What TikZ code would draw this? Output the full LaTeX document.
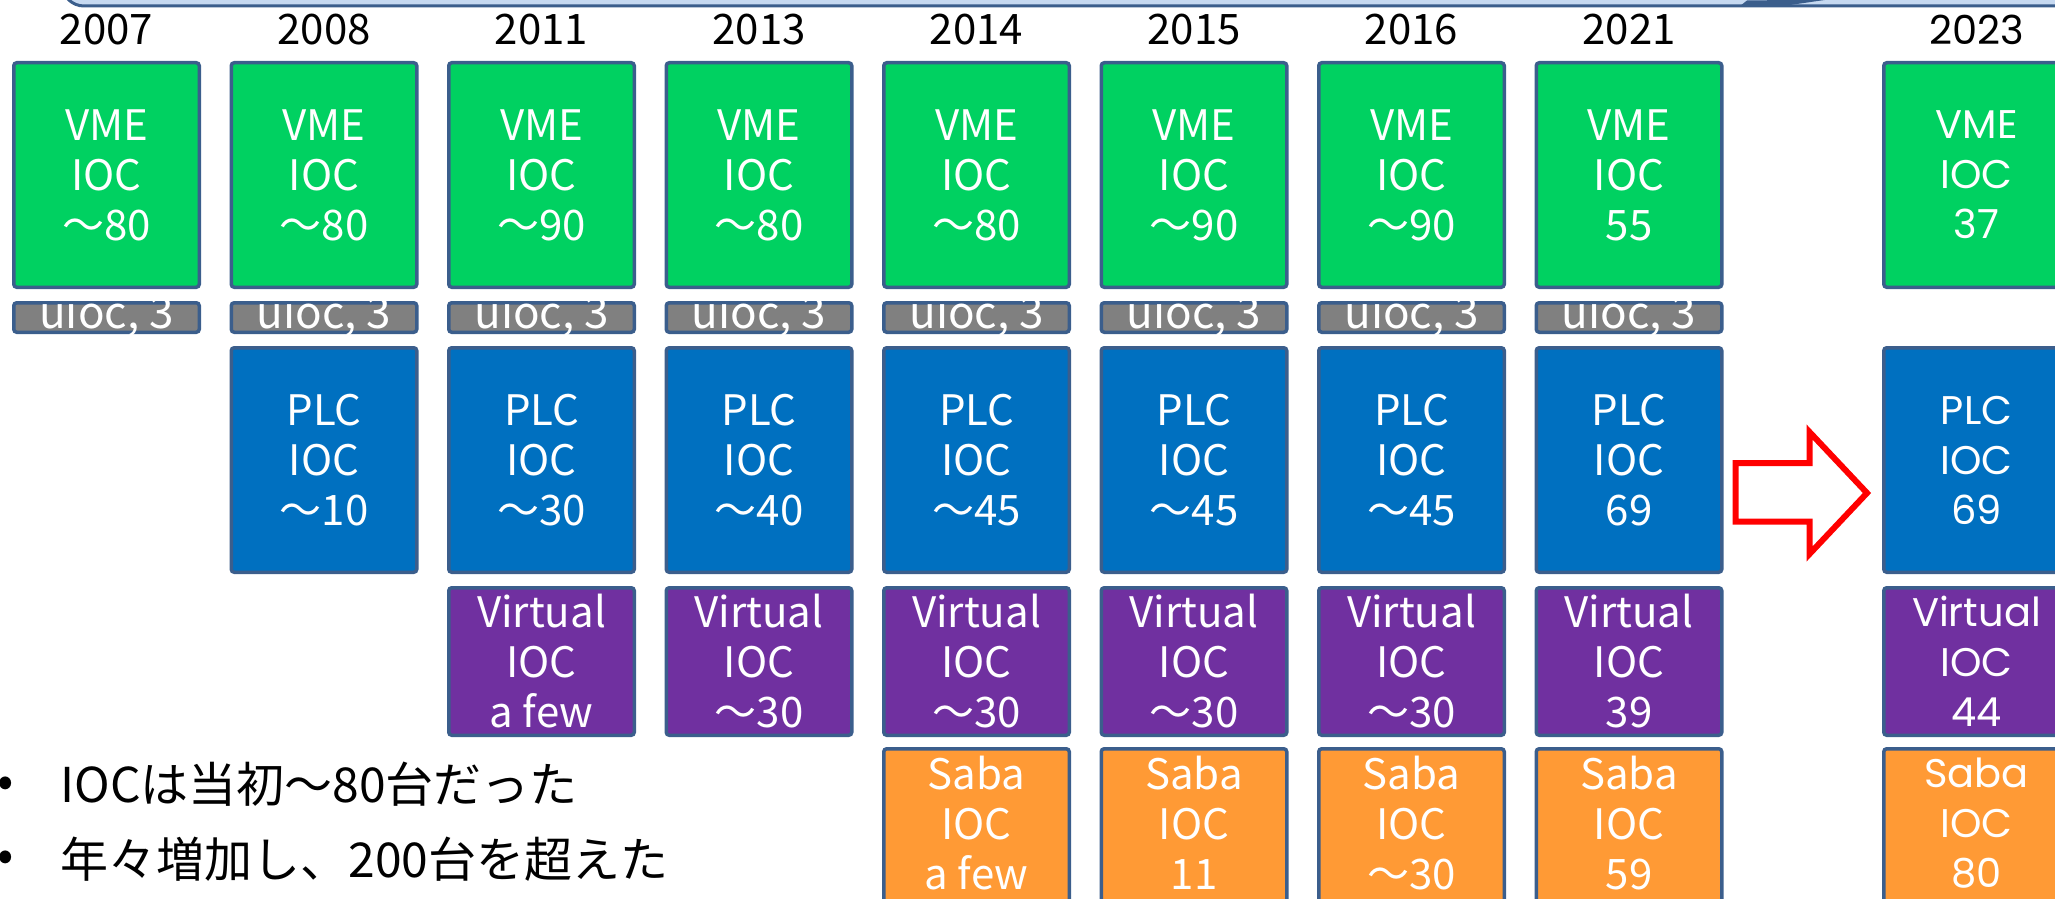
\documentclass[tikz,border=0pt]{standalone}
\usepackage{fontspec}
\setmainfont{Noto Sans CJK JP}
\newfontfamily\geofont{Poppins}
\usetikzlibrary{calc}
\definecolor{bordc}{HTML}{3B5E8C}
\definecolor{vmegreen}{HTML}{00D161}
\definecolor{plcblue}{HTML}{0070C0}
\definecolor{virtpurple}{HTML}{7030A0}
\definecolor{sabaorange}{HTML}{FF9A35}
\definecolor{uiocgray}{HTML}{808080}
\definecolor{callfill}{HTML}{C6D9F1}
\definecolor{arrowred}{HTML}{FF0000}
\begin{document}
\begin{tikzpicture}[x=0.5pt, y=-0.5pt,
  box/.style={draw=bordc, line width=1.75pt, rounded corners=1.5pt, text=white, align=center, inner sep=0pt, minimum width=92.75pt, font=\fontsize{21}{25}\selectfont},
  tallbox/.style={box, minimum height=112.25pt},
  vmebox/.style={tallbox, fill=vmegreen},
  plcbox/.style={tallbox, fill=plcblue},
  virtbox/.style={box, fill=virtpurple, minimum height=73.75pt},
  sababox/.style={box, fill=sabaorange, minimum height=85pt},
  uiocbox/.style={box, fill=uiocgray, minimum height=14.75pt},
  boxtext/.style={text=white, align=center, inner sep=0pt, font=\fontsize{21}{25}\selectfont},
  uioctext/.style={boxtext, font=\fontsize{22}{25}\selectfont},
  yearlabel/.style={text=black, inner sep=0pt, font=\fontsize{21}{25}\selectfont},
  newcol/.style={font=\geofont\fontsize{20}{25}\selectfont},
  bullettext/.style={text=black, inner sep=0pt, font=\fontsize{24}{28}\selectfont},
  calloutshape/.style={fill=callfill, draw=bordc, line width=1.5pt, rounded corners=11pt},
  blockarrow/.style={draw=arrowred, fill=white, line width=3pt, miter limit=10}]
\useasboundingbox (0,0) rectangle (2055,899);
\clip (0,0) rectangle (2055,899);

% callout at the top (clipped)
\draw[calloutshape] (62,-120) rectangle (2300,6);
\fill[bordc] (1740,6) -- (1747,0.5) -- (1828,-0.5) -- (1790,5) -- cycle;

% years
\node[yearlabel] (y1) at (106.5,30) {2007};
\node[yearlabel] (y2) at (324,30) {2008};
\node[yearlabel] (y3) at (541.5,30) {2011};
\node[yearlabel] (y4) at (759,30) {2013};
\node[yearlabel] (y5) at (976.5,30) {2014};
\node[yearlabel] (y6) at (1194,30) {2015};
\node[yearlabel] (y7) at (1411.5,30) {2016};
\node[yearlabel] (y8) at (1629,30) {2021};
\node[yearlabel, newcol] (y9) at (1976.5,30) {2023};

% VME IOC
\node[vmebox] (v1) at (106.5,175) {VME\\IOC\\～80};
\node[vmebox] (v2) at (324,175) {VME\\IOC\\～80};
\node[vmebox] (v3) at (541.5,175) {VME\\IOC\\～90};
\node[vmebox] (v4) at (759,175) {VME\\IOC\\～80};
\node[vmebox] (v5) at (976.5,175) {VME\\IOC\\～80};
\node[vmebox] (v6) at (1194,175) {VME\\IOC\\～90};
\node[vmebox] (v7) at (1411.5,175) {VME\\IOC\\～90};
\node[vmebox] (v8) at (1629,175) {VME\\IOC\\55};
\node[vmebox, newcol] (v9) at (1976.5,175) {VME\\IOC\\37};

% uioc
\foreach \n/\x in {1/106.5,2/324,3/541.5,4/759,5/976.5,6/1194,7/1411.5,8/1629}{
  \node[uiocbox] (u\n) at (\x,317.5) {};
  \node[uioctext, anchor=base] (ut\n) at ($(u\n.center)+(0,10.5)$) {uioc, 3};
}

% PLC IOC
\node[plcbox] (p2) at (324,460) {PLC\\IOC\\～10};
\node[plcbox] (p3) at (541.5,460) {PLC\\IOC\\～30};
\node[plcbox] (p4) at (759,460) {PLC\\IOC\\～40};
\node[plcbox] (p5) at (976.5,460) {PLC\\IOC\\～45};
\node[plcbox] (p6) at (1194,460) {PLC\\IOC\\～45};
\node[plcbox] (p7) at (1411.5,460) {PLC\\IOC\\～45};
\node[plcbox] (p8) at (1629,460) {PLC\\IOC\\69};
\node[plcbox, newcol] (p9) at (1976.5,460) {PLC\\IOC\\69};

% Virtual IOC
\node[virtbox] (w3) at (541.5,661.5) {Virtual\\IOC\\a few};
\node[virtbox] (w4) at (759,661.5) {Virtual\\IOC\\～30};
\node[virtbox] (w5) at (976.5,661.5) {Virtual\\IOC\\～30};
\node[virtbox] (w6) at (1194,661.5) {Virtual\\IOC\\～30};
\node[virtbox] (w7) at (1411.5,661.5) {Virtual\\IOC\\～30};
\node[virtbox] (w8) at (1629,661.5) {Virtual\\IOC\\39};
\node[virtbox, newcol] (w9) at (1976.5,661.5) {Virtual\\IOC\\44};

% Saba IOC
\node[sababox] (s5) at (976.5,833.75) {};
\node[sababox] (s6) at (1194,833.75) {};
\node[sababox] (s7) at (1411.5,833.75) {};
\node[sababox] (s8) at (1629,833.75) {};
\node[sababox] (s9) at (1976.5,833.75) {};
\node[boxtext] (st5) at (976.5,823) {Saba\\IOC\\a few};
\node[boxtext] (st6) at (1194,823) {Saba\\IOC\\11};
\node[boxtext] (st7) at (1411.5,823) {Saba\\IOC\\～30};
\node[boxtext] (st8) at (1629,823) {Saba\\IOC\\59};
\node[boxtext, newcol] (st9) at (1976.5,823) {Saba\\IOC\\80};

% red block arrow
\draw[blockarrow] (1735.5,463) -- (1809.5,463) -- (1809.5,432) -- (1867,493)
  -- (1809.5,554) -- (1809.5,521.5) -- (1735.5,521.5) -- cycle;

% bullets
\node[bullettext] (b1) at (6,787) {•};
\node[bullettext, anchor=base west] (t1) at (60,802) {IOCは当初～80台だった};
\node[bullettext] (b2) at (6,861) {•};
\node[bullettext, anchor=base west] (t2) at (60,877) {年々増加し、200台を超えた};
\end{tikzpicture}
\end{document}
